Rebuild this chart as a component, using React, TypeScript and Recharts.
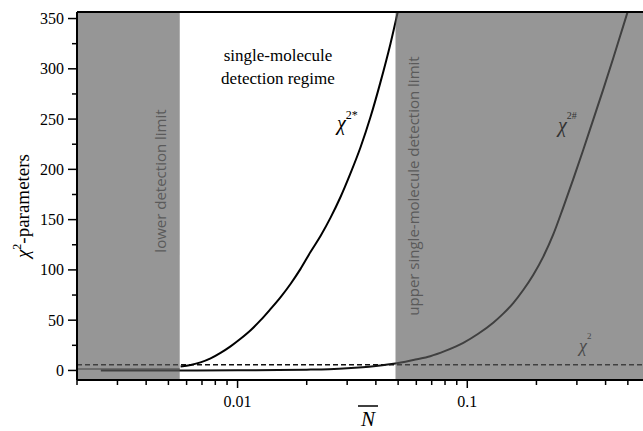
import React from 'react';
import { ComposedChart, Line, XAxis, YAxis, ReferenceArea, ReferenceLine } from 'recharts';

// chi^2* curve (single-molecule regime)
const chiStarN = [0.00565, 0.00625, 0.0069, 0.00763, 0.00843, 0.00932, 0.0103, 0.0114, 0.0126, 0.0139, 0.0154, 0.017, 0.0188, 0.0208, 0.023, 0.0254, 0.028, 0.031, 0.0343, 0.0379, 0.0418, 0.0463, 0.0511];
const chiStarV = [4, 5.5, 8, 12, 17.5, 24, 31.5, 40, 50, 61, 73, 86, 101, 118, 134, 152, 172, 196, 222, 252, 286, 325, 368];
// lower solid chi^2 curve continuing as chi^2#
const chiHashN = [0.00254, 0.005, 0.01, 0.015, 0.02, 0.025, 0.03, 0.035, 0.04, 0.045, 0.0486, 0.0538, 0.0594, 0.069, 0.0802, 0.0961, 0.1116, 0.1297, 0.1434, 0.1585, 0.1752, 0.1936, 0.214, 0.2365, 0.2615, 0.289, 0.3193, 0.3529, 0.3901, 0.4311, 0.4766, 0.5267];
const chiHashV = [0, 0, 0.2, 0.4, 0.8, 1.3, 2.1, 3.2, 4.5, 5.9, 7, 8.7, 10.8, 14.2, 19.5, 27.5, 36.5, 47.5, 56.5, 67, 80, 95, 113, 135, 162, 190, 219, 249, 279, 310, 342, 374];
// faint reference line in the lower-limit zone
const faintN = [0.002, 0.0056];
const faintV = [1.5, 1.5];
// dashed chi^2 expectation level
const chiSqLevel = 5.6;

const lowerLimitN = 0.0056;
const upperLimitN = 0.0487;
const xDomain = [0.002, 0.582];
const yDomain = [-9.5, 356.5];
const xTicks = [0.002, 0.003, 0.004, 0.005, 0.006, 0.007, 0.008, 0.009, 0.01, 0.02, 0.03, 0.04, 0.05, 0.06, 0.07, 0.08, 0.09, 0.1, 0.2, 0.3, 0.4, 0.5];
const xTickLabels: Record<string, string> = { '0.01': '0.01', '0.1': '0.1' };
const yTicks = [0, 25, 50, 75, 100, 125, 150, 175, 200, 225, 250, 275, 300, 325, 350];

const zip = (ns: number[], vs: number[]) => ns.map((n, i) => ({ N: n, v: vs[i] }));
const chiStarData = zip(chiStarN, chiStarV);
const chiHashData = zip(chiHashN, chiHashV);
const faintData = zip(faintN, faintV);

const SERIF = "Liberation Serif, DejaVu Serif, Times, serif";
const SANS = "Open Sans, Noto Sans, sans-serif";

const XTick = (props: any) => {
  const { x, y, payload } = props;
  const v = payload.value as number;
  const lg = Math.log10(v);
  const major = Math.abs(lg - Math.round(lg)) < 1e-6;
  const key = major ? String(Math.pow(10, Math.round(lg))) : '';
  return (
    <g>
      <line x1={x} x2={x} y1={y} y2={y + (major ? 8 : 5)} stroke="#000" strokeWidth={1.5} />
      {major && xTickLabels[key] && (
        <text x={x} y={y + 27} textAnchor="middle" fontSize={16} fontFamily={SERIF} fill="#000">
          {xTickLabels[key]}
        </text>
      )}
    </g>
  );
};

const YTick = (props: any) => {
  const { x, y, payload } = props;
  const v = payload.value as number;
  const major = v % 50 === 0;
  return (
    <g>
      <line x1={x} x2={x - (major ? 9 : 5)} y1={y} y2={y} stroke="#000" strokeWidth={1.5} />
      {major && (
        <text x={x - 13} y={y + 5.5} textAnchor="end" fontSize={16} fontFamily={SERIF} fill="#000">
          {v}
        </text>
      )}
    </g>
  );
};

export default function App() {
  return (
    <div style={{ position: 'absolute', left: 0, top: 0, width: 643, height: 431, background: '#fff', overflow: 'hidden' }}>
      <ComposedChart width={643} height={431} margin={{ top: 12, right: 0, bottom: 0, left: 0 }}>
        <XAxis
          dataKey="N"
          type="number"
          scale="log"
          domain={xDomain}
          allowDataOverflow
          ticks={xTicks}
          interval={0}
          tick={<XTick />}
          tickLine={false}
          tickSize={0}
          tickMargin={0}
          height={51}
          axisLine={{ stroke: '#000', strokeWidth: 2 }}
        />
        <YAxis
          type="number"
          domain={yDomain}
          allowDataOverflow
          ticks={yTicks}
          interval={0}
          tick={<YTick />}
          tickLine={false}
          tickSize={0}
          tickMargin={0}
          width={77}
          axisLine={{ stroke: '#000', strokeWidth: 2 }}
        />
        <ReferenceLine y={chiSqLevel} stroke="#111" strokeWidth={1.5} strokeDasharray="5 3" />
        <Line data={faintData} dataKey="v" type="monotone" stroke="#666" strokeWidth={1.5} dot={false} isAnimationActive={false} />
        <Line data={chiHashData} dataKey="v" type="monotone" stroke="#111" strokeWidth={2} dot={false} isAnimationActive={false} />
        <Line data={chiStarData} dataKey="v" type="monotone" stroke="#000" strokeWidth={2} dot={false} isAnimationActive={false} />
        <ReferenceArea x1={xDomain[0]} x2={lowerLimitN} y1={yDomain[0]} y2={yDomain[1]} fill="#5a5a5a" fillOpacity={0.64} stroke="none" zIndex={450} />
        <ReferenceArea x1={upperLimitN} x2={xDomain[1]} y1={yDomain[0]} y2={yDomain[1]} fill="#5a5a5a" fillOpacity={0.64} stroke="none" zIndex={450} />
        <ReferenceLine y={yDomain[1]} stroke="#000" strokeWidth={2} zIndex={500} />
      </ComposedChart>
      <svg width={643} height={431} style={{ position: 'absolute', left: 0, top: 0, pointerEvents: 'none' }}>
        <text transform="translate(29,206) rotate(-90)" textAnchor="middle" fontSize={19} fontFamily={SERIF} fill="#000">
          <tspan fontStyle="italic">χ</tspan>
          <tspan dy={-8} fontSize={12}>2</tspan>
          <tspan dy={8}>-parameters</tspan>
        </text>
        <text x={278} y={61} textAnchor="middle" fontSize={17} fontFamily={SERIF} fill="#000">single-molecule</text>
        <text x={278} y={84} textAnchor="middle" fontSize={17} fontFamily={SERIF} fill="#000">detection regime</text>
        <text transform="translate(166,181) rotate(-90)" textAnchor="middle" fontSize={15} fontFamily={SANS} fill="#5a5a5a">lower detection limit</text>
        <text transform="translate(419,186) rotate(-90)" textAnchor="middle" fontSize={15} fontFamily={SANS} fill="#5a5a5a">upper single-molecule detection limit</text>
        <text x={337} y={130} fontSize={20} fontFamily={SERIF} fill="#000">
          <tspan fontStyle="italic">χ</tspan>
          <tspan dy={-11} fontSize={12}>2*</tspan>
        </text>
        <text x={558} y={132} fontSize={20} fontFamily={SERIF} fill="#333">
          <tspan fontStyle="italic">χ</tspan>
          <tspan dy={-13} fontSize={10}>2#</tspan>
        </text>
        <text x={579} y={352} fontSize={18} fontFamily={SERIF} fill="#4a4a4a">
          <tspan fontStyle="italic">χ</tspan>
          <tspan dy={-13} fontSize={9}>2</tspan>
        </text>
        <text x={368} y={426} textAnchor="middle" fontSize={21} fontStyle="italic" fontFamily={SERIF} fill="#000">N</text>
        <line x1={358} x2={378} y1={406} y2={406} stroke="#000" strokeWidth={1.5} />
      </svg>
    </div>
  );
}
